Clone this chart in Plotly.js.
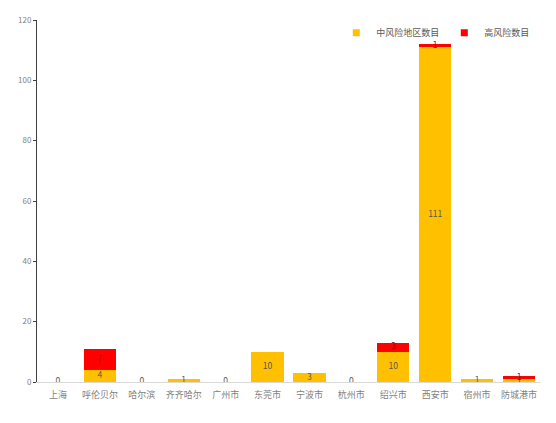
<!DOCTYPE html>
<html>
<head>
<meta charset="utf-8">
<script src="https://cdn.plot.ly/plotly-3.0.1.min.js"></script>
<style>
  html, body { margin: 0; padding: 0; background: #fff; }
  #chart { width: 556px; height: 423px; }
</style>
</head>
<body>
<div id="chart"></div>
<script>
const cities = ["上海","呼伦贝尔","哈尔滨","齐齐哈尔","广州市","东莞市","宁波市","杭州市","绍兴市","西安市","宿州市","防城港市"]
const medium = [0, 4, 0, 1, 0, 10, 3, 0, 10, 111, 1, 1]
const high = [0, 7, 0, 0, 0, 0, 0, 0, 3, 1, 0, 1]
const seriesNames = ['中风险地区数目', '高风险数目']
const seriesColors = ['#FFC000', '#FF0000']

const font = "'Noto Sans CJK SC', 'Noto Sans', sans-serif"

// label positions: middle of each stacked segment
let medMid = []
let highMid = []
let highText = []
for (let i = 0; i < cities.length; i++) {
    medMid[i] = medium[i] / 2
    highMid[i] = medium[i] + high[i] / 2
    highText[i] = high[i] > 0 ? String(high[i]) : ''
}

let trace1 = {
    x: cities,
    y: medium,
    name: seriesNames[0],
    type: 'bar',
    marker: {color: seriesColors[0]},
    showlegend: false
}

let trace2 = {
    x: cities,
    y: high,
    name: seriesNames[1],
    type: 'bar',
    marker: {color: seriesColors[1]},
    showlegend: false
}

let labels1 = {
    x: cities,
    y: medMid,
    text: medium.map(String),
    mode: 'text',
    type: 'scatter',
    textfont: {family: font, size: 8.5, color: '#595959'},
    showlegend: false,
    hoverinfo: 'skip'
}

let labels2 = {
    x: cities,
    y: highMid,
    text: highText,
    mode: 'text',
    type: 'scatter',
    textfont: {family: font, size: 8.5, color: '#A00000'},
    showlegend: false,
    hoverinfo: 'skip'
}

// small square legend keys
let legendTraces = seriesNames.map((n, i) => ({
    x: [null],
    y: [null],
    name: n,
    type: 'scatter',
    mode: 'markers',
    marker: {symbol: 'square', size: 7, color: seriesColors[i]}
}))

let layout = {
    width: 556,
    height: 423,
    barmode: 'stack',
    bargap: 0.23,
    paper_bgcolor: '#fff',
    plot_bgcolor: '#fff',
    margin: {l: 37, r: 16, t: 20, b: 41},
    font: {family: font, color: '#7f7f7f', size: 9},
    showlegend: true,
    legend: {
        orientation: 'h',
        x: 0.595,
        y: 1.005,
        xanchor: 'left',
        yanchor: 'top',
        font: {family: font, size: 9, color: '#595959'},
        itemwidth: 30,
        traceorder: 'normal',
        bgcolor: 'rgba(0,0,0,0)'
    },
    xaxis: {
        type: 'category',
        range: [-0.5, 11.5],
        showgrid: false,
        zeroline: false,
        showline: true,
        linecolor: '#d9d9d9',
        linewidth: 1,
        ticks: 'outside',
        ticklen: 4,
        tickcolor: 'rgba(0,0,0,0)',
        tickfont: {family: font, size: 9, color: '#7f7f7f'}
    },
    yaxis: {
        range: [0, 120],
        dtick: 20,
        showgrid: false,
        zeroline: false,
        showline: true,
        linecolor: '#404040',
        linewidth: 1,
        ticks: 'outside',
        ticklen: 3,
        tickcolor: '#404040',
        tickfont: {family: font, size: 8, color: '#7f7f7f'}
    }
}

Plotly.newPlot('chart', [trace1, trace2, labels1, labels2].concat(legendTraces), layout, {displayModeBar: false, staticPlot: true})
</script>
</body>
</html>
